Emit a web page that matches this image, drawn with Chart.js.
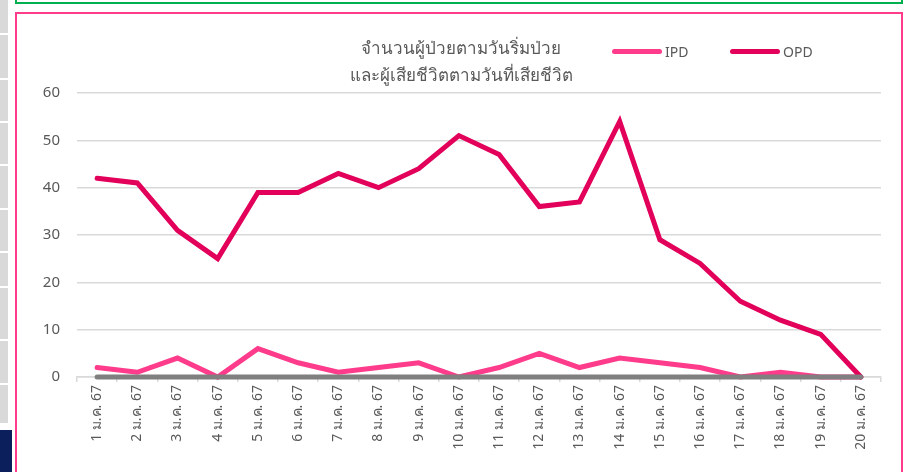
<!DOCTYPE html>
<html>
<head>
<meta charset="utf-8">
<script src="https://cdn.jsdelivr.net/npm/chart.js@4/dist/chart.umd.min.js"></script>
<style>
  html, body { margin: 0; padding: 0; background: #fff; }
  body { width: 904px; height: 472px; position: relative; overflow: hidden; font-family: "Noto Sans", sans-serif; }
  .strip { position: absolute; left: 0; width: 8px; background: #d9d9d9; }
  #navy { position: absolute; left: 0; top: 430px; width: 12px; height: 42px; background: #0b1f5c; }
  #greenBox { position: absolute; left: 15px; top: -20px; width: 884px; height: 20px; border: 2px solid #00b050; }
  #pinkBox { position: absolute; left: 15px; top: 12px; width: 884px; height: 480px; border: 2px solid #ff3b8b; }
  #wrap { position: absolute; left: 0; top: 0; width: 904px; height: 472px; }
  #title { position: absolute; left: 261px; width: 400px; top: 34px; text-align: center; font-size: 17px; line-height: 27px; color: #595959; }
  .leg { position: absolute; top: 42px; font-size: 14px; color: #595959; display: flex; align-items: center; }
  .leg span.ln { display: inline-block; width: 50px; height: 5px; border-radius: 3px; margin-right: 3px; }
</style>
</head>
<body>
<div id="greenBox"></div>
<div id="pinkBox"></div>
<div id="strips"></div>
<div id="navy"></div>
<div id="wrap"><canvas id="chart" width="904" height="472"></canvas></div>
<div id="title">จำนวนผู้ป่วยตามวันริ่มป่วย<br>และผู้เสียชีวิตตามวันที่เสียชีวิต</div>
<div class="leg" style="left:612px"><span class="ln" style="background:#ff3b8b"></span>IPD</div>
<div class="leg" style="left:730px"><span class="ln" style="background:#e2005a"></span>OPD</div>
<script>
// Chart data
const days = ['1 ม.ค. 67', '2 ม.ค. 67', '3 ม.ค. 67', '4 ม.ค. 67', '5 ม.ค. 67', '6 ม.ค. 67', '7 ม.ค. 67',
    '8 ม.ค. 67', '9 ม.ค. 67', '10 ม.ค. 67', '11 ม.ค. 67', '12 ม.ค. 67', '13 ม.ค. 67', '14 ม.ค. 67',
    '15 ม.ค. 67', '16 ม.ค. 67', '17 ม.ค. 67', '18 ม.ค. 67', '19 ม.ค. 67', '20 ม.ค. 67'];
const ipd = [2, 1, 4, 0, 6, 3, 1, 2, 3, 0, 2, 5, 2, 4, 3, 2, 0, 1, 0, 0];
const opd = [42, 41, 31, 25, 39, 39, 43, 40, 44, 51, 47, 36, 37, 54, 29, 24, 16, 12, 9, 0];
const deaths = [0, 0, 0, 0, 0, 0, 0, 0, 0, 0, 0, 0, 0, 0, 0, 0, 0, 0, 0, 0];
const yTicks = [0, 10, 20, 30, 40, 50, 60];

// left page strip pieces
const stripCuts = [0, 35, 80, 123, 166, 210, 253, 288, 341, 385, 425];
const strips = document.getElementById('strips');
for (let i = 0; i < stripCuts.length - 1; i++) {
    const d = document.createElement('div');
    d.className = 'strip';
    d.style.top = stripCuts[i] + 'px';
    d.style.height = (stripCuts[i + 1] - stripCuts[i] - 2) + 'px';
    strips.appendChild(d);
}

const ctx = document.getElementById('chart').getContext('2d');
new Chart(ctx, {
    type: 'line',
    data: {
        labels: days,
        datasets: [
            { label: 'เสียชีวิต', data: deaths, borderColor: '#7f7f7f', borderWidth: 5, pointRadius: 0, borderCapStyle: 'round', order: 0, clip: false },
            { label: 'OPD', data: opd, borderColor: '#e2005a', borderWidth: 5, pointRadius: 0, borderCapStyle: 'round', order: 1, clip: false },
            { label: 'IPD', data: ipd, borderColor: '#ff3b8b', borderWidth: 5, pointRadius: 0, borderCapStyle: 'round', order: 2, clip: false }
        ]
    },
    options: {
        responsive: false,
        animation: false,
        layout: { padding: { left: 16, right: 23, top: 93, bottom: 0 } },
        plugins: {
            legend: { display: false },
            title: { display: false },
            tooltip: { enabled: false }
        },
        scales: {
            x: {
                offset: true,
                grid: { drawOnChartArea: false, drawTicks: true, tickLength: 5, color: '#d9d9d9', lineWidth: 1.5, offset: true },
                border: { display: true, color: '#d9d9d9', width: 1.5 },
                ticks: { color: '#595959', font: { size: 14, family: 'Noto Sans' }, minRotation: 90, maxRotation: 90, padding: 3, autoSkip: false },
                afterFit: s => { s.height = 95; }
            },
            y: {
                min: 0,
                max: 60,
                afterBuildTicks: s => { s.ticks = yTicks.map(v => ({ value: v })); },
                grid: { color: '#d9d9d9', lineWidth: 1.5, drawTicks: false },
                border: { display: false },
                ticks: { color: '#595959', font: { size: 15, family: 'Noto Sans' }, padding: 17 },
                afterFit: s => { s.width = 61; }
            }
        }
    }
});
</script>
</body>
</html>
